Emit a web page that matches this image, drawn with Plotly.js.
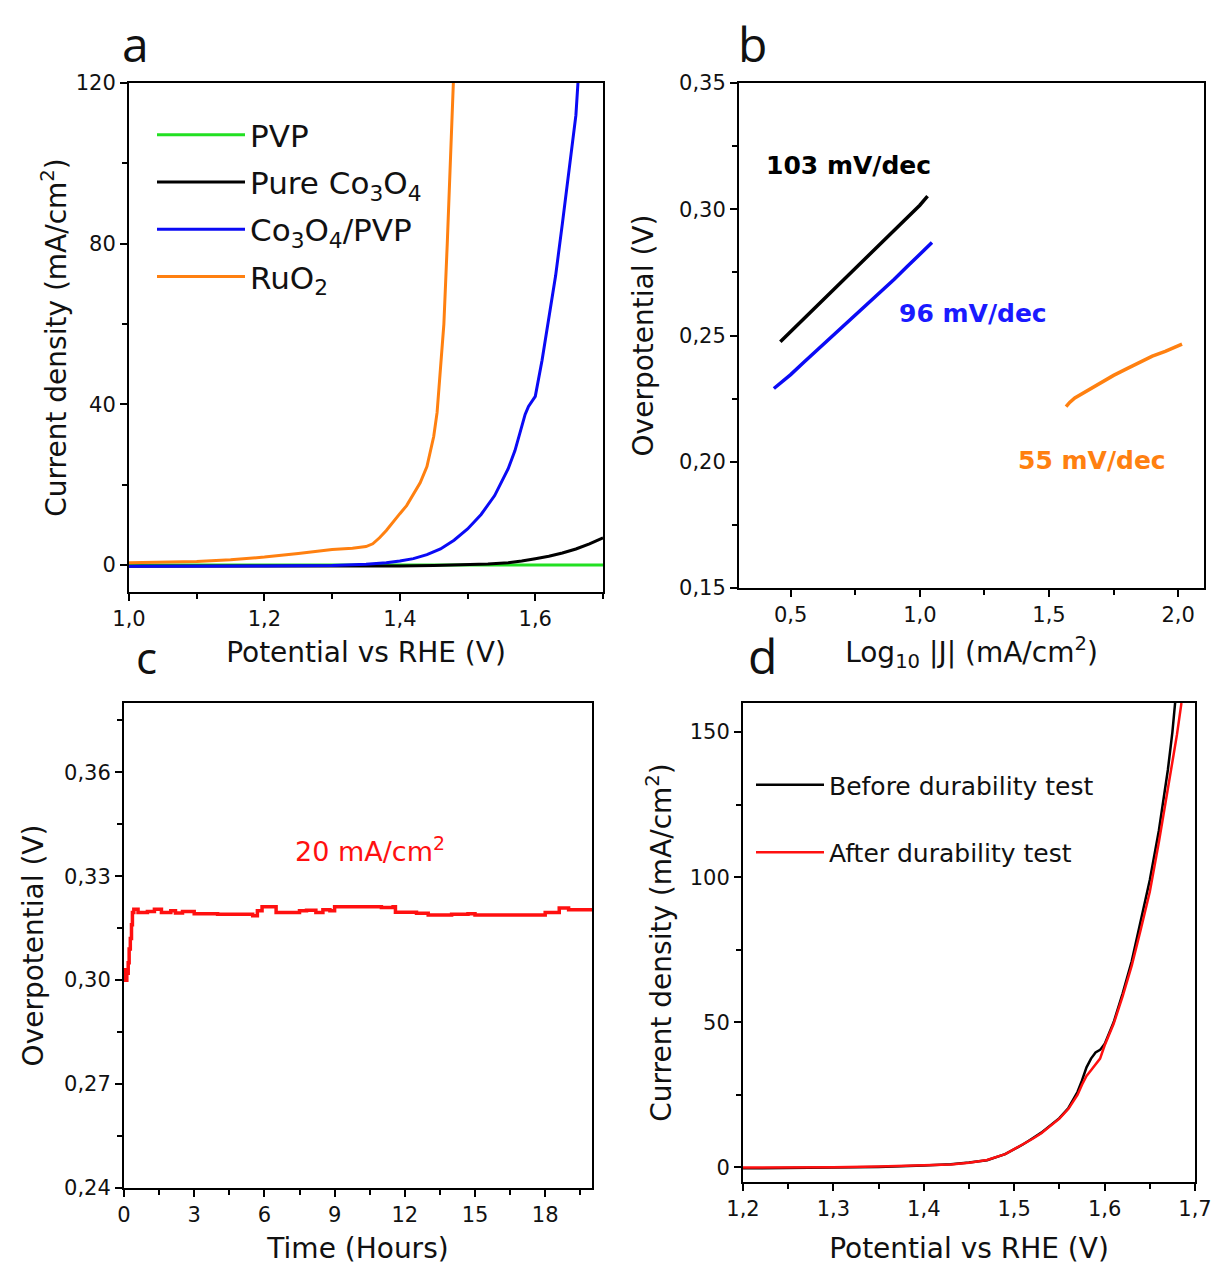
<!DOCTYPE html>
<html>
<head>
<meta charset="utf-8">
<script src="https://cdn.plot.ly/plotly-3.0.1.min.js"></script>
<style>html,body{margin:0;padding:0;background:#fff}#chart{width:1216px;height:1266px}</style>
</head>
<body>
<div id="chart"></div>
<script>
// ---------- Panel a: LSV curves ----------
const pvpX = [1.0, 1.1, 1.2, 1.3, 1.4, 1.5, 1.6, 1.7];
const pvpY = [0, 0, 0, 0, 0, 0, 0, 0];

const co3o4X = [1.0, 1.1, 1.2, 1.3, 1.4, 1.45, 1.5, 1.53, 1.56, 1.58, 1.6, 1.62, 1.64, 1.66, 1.68, 1.7];
const co3o4Y = [-0.3, -0.3, -0.3, -0.3, -0.2, -0.1, 0.1, 0.3, 0.6, 1.0, 1.6, 2.2, 3.0, 4.0, 5.3, 6.8];

const co3o4pvpX = [1.0, 1.1, 1.2, 1.3, 1.35, 1.38, 1.40, 1.42, 1.44, 1.46, 1.48, 1.50, 1.52, 1.54, 1.56, 1.57, 1.58, 1.585, 1.59, 1.60, 1.61, 1.62, 1.63, 1.64, 1.65, 1.66, 1.663];
const co3o4pvpY = [-0.3, -0.3, -0.2, -0.1, 0.2, 0.6, 1.0, 1.6, 2.6, 4.0, 6.2, 9.0, 12.6, 17.3, 24.0, 28.5, 34.5, 37.5, 39.5, 42, 51, 61, 72, 85, 98, 112, 120];

const ruo2X = [1.0, 1.05, 1.1, 1.15, 1.2, 1.25, 1.28, 1.3, 1.33, 1.35, 1.36, 1.37, 1.38, 1.39, 1.40, 1.41, 1.42, 1.43, 1.44, 1.45, 1.455, 1.46, 1.465, 1.47, 1.475, 1.479];
const ruo2Y = [0.6, 0.7, 0.9, 1.3, 2.0, 2.9, 3.5, 3.9, 4.2, 4.6, 5.3, 6.8, 8.6, 10.8, 12.8, 14.8, 17.6, 20.5, 24.5, 32, 38, 49, 60, 80, 100, 120];

// ---------- Panel b: Tafel plots ----------
const tafelBlackX = [0.46, 0.5, 0.55, 0.6, 0.65, 0.7, 0.72, 0.75, 0.8, 0.85, 0.9, 0.95, 1.0, 1.03];
const tafelBlackY = [0.2475, 0.2515, 0.2565, 0.2615, 0.2662, 0.2712, 0.2735, 0.2762, 0.2812, 0.2862, 0.2913, 0.2963, 0.3016, 0.3052];
const tafelBlueX = [0.435, 0.5, 0.55, 0.6, 0.65, 0.7, 0.75, 0.8, 0.85, 0.9, 0.95, 1.0, 1.047];
const tafelBlueY = [0.2290, 0.2345, 0.2393, 0.2440, 0.2488, 0.2532, 0.2578, 0.2625, 0.2672, 0.2722, 0.2772, 0.2822, 0.2868];
const tafelOrangeX = [1.566, 1.58, 1.6, 1.65, 1.7, 1.75, 1.8, 1.85, 1.9, 1.95, 2.0, 2.015];
const tafelOrangeY = [0.2218, 0.2235, 0.2253, 0.2283, 0.2313, 0.2342, 0.2368, 0.2393, 0.2418, 0.2437, 0.2458, 0.2466];
const tafelLabels = ['103 mV/dec', '96 mV/dec', '55 mV/dec'];

// ---------- Panel c: chronopotentiometry ----------
const timeH = [0, 0.05, 0.12, 0.18, 0.22, 0.27, 0.32, 0.36, 0.42, 0.6, 1.0, 1.3, 1.6, 2.0, 2.2, 2.5, 3.0, 4.0, 5.0, 5.5, 5.7, 5.9, 6.3, 6.5, 7.0, 7.5, 7.8, 8.2, 8.5, 8.8, 9.0, 10.0, 11.0, 11.5, 11.6, 12.5, 13.0, 14.0, 14.7, 15.0, 17.0, 18.0, 18.6, 19.0, 20.0];
const overpot = [0.303, 0.300, 0.302, 0.305, 0.309, 0.312, 0.316, 0.3195, 0.3205, 0.3195, 0.3198, 0.3205, 0.3195, 0.3200, 0.3194, 0.3198, 0.3192, 0.3190, 0.3190, 0.3186, 0.3200, 0.3212, 0.3212, 0.3195, 0.3195, 0.3200, 0.3202, 0.3195, 0.3203, 0.3200, 0.3212, 0.3212, 0.3210, 0.3212, 0.3196, 0.3193, 0.3188, 0.3190, 0.3192, 0.3188, 0.3188, 0.3195, 0.3208, 0.3203, 0.3205];
const chronoLabel = '20 mA/cm<sup>2</sup>';

// ---------- Panel d: durability LSV ----------
const beforeX = [1.2, 1.25, 1.3, 1.35, 1.4, 1.43, 1.45, 1.47, 1.49, 1.5, 1.51, 1.52, 1.53, 1.54, 1.55, 1.56, 1.57, 1.575, 1.58, 1.585, 1.59, 1.595, 1.6, 1.61, 1.62, 1.63, 1.64, 1.65, 1.66, 1.67, 1.675, 1.678];
const beforeY = [-0.3, -0.2, 0.0, 0.2, 0.7, 1.1, 1.7, 2.5, 4.6, 6.2, 8.0, 10.0, 12.0, 14.5, 17.0, 20.5, 26.0, 30.0, 34.5, 37.5, 39.6, 40.5, 42.5, 50, 60, 71, 85, 99, 116, 137, 150, 160];
const afterX = [1.2, 1.25, 1.3, 1.35, 1.4, 1.43, 1.45, 1.47, 1.49, 1.5, 1.51, 1.52, 1.53, 1.54, 1.55, 1.56, 1.57, 1.575, 1.58, 1.585, 1.59, 1.595, 1.6, 1.61, 1.62, 1.63, 1.64, 1.65, 1.66, 1.67, 1.68, 1.685];
const afterY = [0.0, 0.0, 0.1, 0.3, 0.6, 1.0, 1.6, 2.6, 4.6, 6.3, 7.9, 9.8, 11.8, 14.2, 16.8, 20.2, 25.0, 28.5, 31.5, 33.5, 35.5, 37.5, 42, 49.5, 59, 69.5, 82, 95, 112, 130, 149, 160];

const panelLetters = ['a', 'b', 'c', 'd'];

// ---------- styling ----------
const FONT = 'DejaVu Sans, Arial, sans-serif';
const LETTER_FONT = 'Open Sans, DejaVu Sans, sans-serif';
const W = 1216, H = 1266;
const px = v => v / W;
const py = v => 1 - v / H;

function minorTicks(d) {
  return {ticks: 'outside', ticklen: 5, tickwidth: 2, tickcolor: '#000', dtick: d, showgrid: false};
}

function axis(opts) {
  return Object.assign({
    showline: true, linecolor: '#000', linewidth: 2, mirror: true,
    ticks: 'outside', ticklen: 7, tickwidth: 2, tickcolor: '#000',
    showgrid: false, zeroline: false,
    tickfont: {family: FONT, size: 21, color: '#111'},
    automargin: false
  }, opts);
}

const traces = [
  {x: pvpX, y: pvpY, name: 'PVP', legendgroup: 'g1', line: {color: '#22e022', width: 3}, xaxis: 'x', yaxis: 'y'},
  {x: co3o4X, y: co3o4Y, name: 'Pure Co<sub>3</sub>O<sub>4</sub>', legendgroup: 'g2', line: {color: '#000000', width: 3}, xaxis: 'x', yaxis: 'y'},
  {x: co3o4pvpX, y: co3o4pvpY, name: 'Co<sub>3</sub>O<sub>4</sub>/PVP', legendgroup: 'g3', line: {color: '#0a0af5', width: 3}, xaxis: 'x', yaxis: 'y'},
  {x: ruo2X, y: ruo2Y, name: 'RuO<sub>2</sub>', legendgroup: 'g4', line: {color: '#ff8010', width: 3}, xaxis: 'x', yaxis: 'y'},

  {x: tafelBlackX, y: tafelBlackY, showlegend: false, line: {color: '#000000', width: 3.5}, xaxis: 'x2', yaxis: 'y2'},
  {x: tafelBlueX, y: tafelBlueY, showlegend: false, line: {color: '#0a0af5', width: 3.5}, xaxis: 'x2', yaxis: 'y2'},
  {x: tafelOrangeX, y: tafelOrangeY, showlegend: false, line: {color: '#ff8010', width: 3.5}, xaxis: 'x2', yaxis: 'y2'},

  {x: timeH, y: overpot, showlegend: false, line: {color: '#ff1010', width: 3.5, shape: 'hv'}, xaxis: 'x3', yaxis: 'y3'},

  {x: beforeX, y: beforeY, name: 'Before durability test', legend: 'legend2', legendgroup: 'h1', line: {color: '#000000', width: 2.5}, xaxis: 'x4', yaxis: 'y4'},
  {x: afterX, y: afterY, name: 'After durability test', legend: 'legend2', legendgroup: 'h2', line: {color: '#ff1010', width: 2.5}, xaxis: 'x4', yaxis: 'y4'}
].map(t => Object.assign({type: 'scatter', mode: 'lines', hoverinfo: 'skip'}, t));

const titleFont = {family: FONT, size: 28, color: '#111'};

function letter(text, x, y, size) {
  return {text: text, xref: 'paper', yref: 'paper', x: px(x), y: py(y), xanchor: 'center', yanchor: 'middle',
    showarrow: false, font: {family: LETTER_FONT, size: size, color: '#111'}};
}

const layout = {
  width: W, height: H,
  margin: {l: 0, r: 0, t: 0, b: 0},
  paper_bgcolor: '#fff', plot_bgcolor: '#fff',
  separators: ',.',
  font: {family: FONT, color: '#111'},
  showlegend: true,
  legend: {
    x: px(152), y: py(108), xanchor: 'left', yanchor: 'top',
    font: {family: FONT, size: 31, color: '#111'},
    bgcolor: 'rgba(0,0,0,0)', borderwidth: 0,
    tracegroupgap: 4, traceorder: 'grouped', itemwidth: 88
  },
  legend2: {
    x: px(751), y: py(762), xanchor: 'left', yanchor: 'top',
    font: {family: FONT, size: 25, color: '#111'},
    bgcolor: 'rgba(0,0,0,0)', borderwidth: 0,
    tracegroupgap: 32, traceorder: 'grouped', itemwidth: 68
  },
  xaxis: axis({domain: [px(129), px(603)], range: [1.0, 1.7], anchor: 'y', tick0: 1.0, dtick: 0.2, tickformat: '.1f',
    minor: minorTicks(0.1),
    title: {text: 'Potential vs RHE (V)', font: titleFont, standoff: 12}}),
  yaxis: axis({domain: [py(592), py(83)], range: [-6.7, 120], anchor: 'x', tick0: 0, dtick: 40,
    minor: minorTicks(20),
    title: {text: 'Current density (mA/cm<sup>2</sup>)', font: titleFont, standoff: 1}}),

  xaxis2: axis({domain: [px(739), px(1204)], range: [0.3, 2.1], anchor: 'y2', tick0: 0.5, dtick: 0.5, tickformat: '.1f',
    minor: minorTicks(0.25),
    title: {text: 'Log<sub>10</sub> |J| (mA/cm<sup>2</sup>)', font: titleFont, standoff: 16}}),
  yaxis2: axis({domain: [py(588), py(83)], range: [0.15, 0.35], anchor: 'x2', tick0: 0.15, dtick: 0.05, tickformat: '.2f',
    minor: minorTicks(0.025),
    title: {text: 'Overpotential (V)', font: titleFont, standoff: 17}}),

  xaxis3: axis({domain: [px(124), px(592)], range: [0, 20], anchor: 'y3', tick0: 0, dtick: 3,
    minor: minorTicks(1.5),
    title: {text: 'Time (Hours)', font: titleFont, standoff: 12}}),
  yaxis3: axis({domain: [py(1188), py(703)], range: [0.24, 0.38], anchor: 'x3', tick0: 0.24, dtick: 0.03, tickformat: '.2f',
    minor: minorTicks(0.015),
    title: {text: 'Overpotential (V)', font: titleFont, standoff: 12}}),

  xaxis4: axis({domain: [px(743), px(1195)], range: [1.2, 1.7], anchor: 'y4', tick0: 1.2, dtick: 0.1, tickformat: '.1f',
    minor: minorTicks(0.05),
    title: {text: 'Potential vs RHE (V)', font: titleFont, standoff: 18}}),
  yaxis4: axis({domain: [py(1182), py(703)], range: [-5, 160], anchor: 'x4', tick0: 0, dtick: 50,
    minor: minorTicks(25),
    title: {text: 'Current density (mA/cm<sup>2</sup>)', font: titleFont, standoff: 10}}),

  annotations: [
    {text: tafelLabels[0], xref: 'x2', yref: 'y2', x: 0.722, y: 0.3174, xanchor: 'center', yanchor: 'middle', showarrow: false,
      font: {family: FONT, size: 25, color: '#000', weight: 'bold'}},
    {text: tafelLabels[1], xref: 'x2', yref: 'y2', x: 1.206, y: 0.2586, xanchor: 'center', yanchor: 'middle', showarrow: false,
      font: {family: FONT, size: 25, color: '#1a1aff', weight: 'bold'}},
    {text: tafelLabels[2], xref: 'x2', yref: 'y2', x: 1.667, y: 0.2003, xanchor: 'center', yanchor: 'middle', showarrow: false,
      font: {family: FONT, size: 25, color: '#ff8010', weight: 'bold'}},
    {text: chronoLabel, xref: 'x3', yref: 'y3', x: 10.5, y: 0.3377, xanchor: 'center', yanchor: 'middle', showarrow: false,
      font: {family: FONT, size: 27, color: '#ff1010'}},
    letter(panelLetters[0], 135, 43, 48),
    letter(panelLetters[1], 752, 43, 48),
    letter(panelLetters[2], 146, 657, 44),
    letter(panelLetters[3], 762, 656, 48)
  ]
};

Plotly.newPlot('chart', traces, layout, {staticPlot: true, displayModeBar: false});
</script>
</body>
</html>
